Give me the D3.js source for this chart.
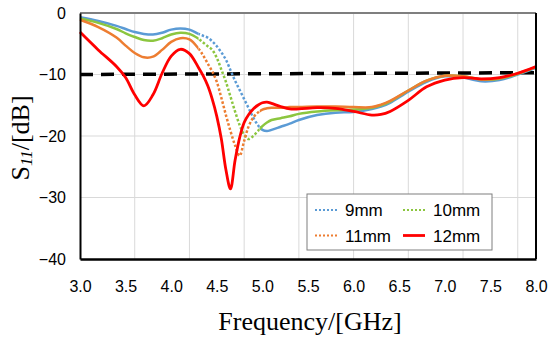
<!DOCTYPE html>
<html>
<head>
<meta charset="utf-8">
<script src="https://cdn.jsdelivr.net/npm/d3@7"></script>
<style>
  body { margin: 0; background: #fff; }
  svg text { fill: #000; }
</style>
</head>
<body>
<div id="chart"></div>
<script>
// frequency grid (GHz)
var freq = [3.0, 3.2, 3.4, 3.5, 3.6, 3.7, 3.8, 3.9, 4.0, 4.1, 4.2, 4.3, 4.35, 4.4, 4.45, 4.5, 4.55, 4.6, 4.65, 4.7, 4.75,
            4.8, 4.85, 4.9, 4.95, 5.0, 5.05, 5.1, 5.2, 5.3, 5.4, 5.6, 5.8, 6.0, 6.2, 6.3, 6.4, 6.6, 6.8, 7.0, 7.2,
            7.4, 7.6, 7.8, 8.0];

var s9mm  = [-0.7, -1.3, -2.1, -2.6, -3.1, -3.4, -3.5, -3.2, -2.7, -2.5, -2.7, -3.4, -3.7, -4.0, -4.6, -5.4, -6.4, -7.6, -9.3, -11.0, -12.5,
             -14.0, -15.5, -17.0, -18.2, -19.0, -19.2, -19.0, -18.5, -18.0, -17.4, -16.6, -16.2, -16.1, -15.6, -15.2, -14.6, -12.8, -11.2, -10.3, -10.5,
             -11.1, -10.9, -10.0, -8.9];
var s10mm = [-0.9, -1.6, -2.6, -3.3, -3.9, -4.4, -4.5, -4.1, -3.5, -3.2, -3.4, -4.2, -4.8, -5.4, -6.0, -7.3, -9.2, -11.2, -13.6, -16.0, -18.2,
             -19.8, -20.5, -20.0, -19.2, -18.4, -17.8, -17.4, -17.1, -16.8, -16.4, -16.0, -15.8, -15.7, -15.4, -15.0, -14.4, -12.6, -11.0, -10.2, -10.3,
             -10.8, -10.7, -9.9, -8.8];
var s11mm = [-1.1, -2.3, -4.0, -5.3, -6.5, -7.2, -7.1, -6.0, -4.7, -4.1, -4.3, -5.8, -6.9, -8.2, -9.5, -11.2, -13.8, -16.6, -19.2, -21.5, -23.2,
             -20.8, -18.4, -17.0, -16.2, -15.7, -15.5, -15.4, -15.4, -15.3, -15.3, -15.2, -15.2, -15.3, -15.3, -14.9, -14.3, -12.6, -11.0, -10.2, -10.3,
             -10.8, -10.6, -9.8, -8.8];
var s12mm = [-3.1, -6.0, -8.7, -10.5, -13.3, -15.1, -13.3, -9.8, -7.0, -5.9, -6.6, -8.9, -10.2, -11.8, -14.0, -16.8, -20.5, -25.5, -28.6, -24.0, -20.3,
             -17.8, -16.5, -15.6, -15.0, -14.6, -14.5, -14.7, -15.2, -15.6, -15.6, -15.4, -15.5, -16.0, -16.6, -16.5, -16.0, -14.2, -12.0, -10.9, -10.5,
             -10.7, -10.5, -9.8, -8.7];

// -10 dB reference line
var refFreq = [3.0, 8.0];
var refVals = [-10, -9.7];

var seriesNames = ["9mm", "10mm", "11mm", "12mm"];
var seriesColors = ["#5b9bd5", "#8cc63f", "#ed7d31", "#ff0000"];
var seriesDotted = [true, true, true, false];

var xTicks = [3.0, 3.5, 4.0, 4.5, 5.0, 5.5, 6.0, 6.5, 7.0, 7.5, 8.0];
var xGrid = [3.6, 4.2, 4.8, 5.4, 6.0, 6.6, 7.2, 7.8];
var yTicks = [0, -10, -20, -30, -40];

var margin = {top: 13, right: 14, bottom: 78, left: 80},
    width = 550 - margin.left - margin.right,
    height = 337 - margin.top - margin.bottom;

var x = d3.scaleLinear().domain([3, 8]).range([0, width]);
var y = d3.scaleLinear().domain([-40, 0]).range([height, 0]);

var svg = d3.select("#chart").append("svg")
    .attr("width", 550)
    .attr("height", 337)
    .append("g")
    .attr("transform", "translate(" + margin.left + "," + margin.top + ")");

// gridlines
svg.selectAll(".vgrid")
    .data(xGrid)
    .enter()
    .append("line")
    .attr("x1", function(d) { return x(d); })
    .attr("x2", function(d) { return x(d); })
    .attr("y1", 0)
    .attr("y2", height)
    .style("stroke", "#d9d9d9")
    .style("stroke-width", 1);

svg.selectAll(".hgrid")
    .data([-10, -20, -30])
    .enter()
    .append("line")
    .attr("x1", 0)
    .attr("x2", width)
    .attr("y1", function(d) { return y(d); })
    .attr("y2", function(d) { return y(d); })
    .style("stroke", "#d9d9d9")
    .style("stroke-width", 1);

// clip regions: steep part is drawn dotted, the rest solid
var defs = svg.append("defs");
var dotFrom = 4.3, dotTo = 4.97;
var solidClip = defs.append("clipPath").attr("id", "solidClip");
solidClip.append("rect").attr("x", -5).attr("y", -5).attr("width", x(dotFrom) + 5).attr("height", height + 10);
solidClip.append("rect").attr("x", x(dotTo)).attr("y", -5).attr("width", width - x(dotTo) + 5).attr("height", height + 10);
defs.append("clipPath").attr("id", "dotClip")
    .append("rect").attr("x", x(dotFrom)).attr("y", -5).attr("width", x(dotTo) - x(dotFrom)).attr("height", height + 10);

var line = d3.line()
    .x(function(d) { return x(d[0]); })
    .y(function(d) { return y(d[1]); })
    .curve(d3.curveCatmullRom.alpha(0.5));

var allSeries = [s9mm, s10mm, s11mm, s12mm];

// reference line first so curves sit on top
svg.append("path")
    .datum(d3.zip(refFreq, refVals))
    .attr("d", d3.line().x(function(d) { return x(d[0]); }).y(function(d) { return y(d[1]); }))
    .style("fill", "none")
    .style("stroke", "#000")
    .style("stroke-width", 3.5)
    .style("stroke-dasharray", "13,8");

allSeries.forEach(function(vals, i) {
  var pts = d3.zip(freq, vals);
  if (seriesDotted[i]) {
    svg.append("path")
        .datum(pts)
        .attr("d", line)
        .attr("clip-path", "url(#solidClip)")
        .style("fill", "none")
        .style("stroke", seriesColors[i])
        .style("stroke-width", 2.5);
    svg.append("path")
        .datum(pts)
        .attr("d", line)
        .attr("clip-path", "url(#dotClip)")
        .style("fill", "none")
        .style("stroke", seriesColors[i])
        .style("stroke-width", 2.5)
        .style("stroke-dasharray", "2.5,2");
  } else {
    svg.append("path")
        .datum(pts)
        .attr("d", line)
        .style("fill", "none")
        .style("stroke", seriesColors[i])
        .style("stroke-width", 2.8);
  }
});

// frame
svg.append("line").attr("x1", 0).attr("x2", width).attr("y1", 0).attr("y2", 0)
    .style("stroke", "#7f7f7f").style("stroke-width", 2);
svg.append("line").attr("x1", width).attr("x2", width).attr("y1", 0).attr("y2", height)
    .style("stroke", "#000").style("stroke-width", 2);

// axes
var xAxis = svg.append("g")
    .attr("transform", "translate(0," + height + ")")
    .call(d3.axisBottom(x).tickValues(xTicks).tickSize(0).tickPadding(22).tickFormat(d3.format(".1f")));
xAxis.select(".domain").style("stroke", "#000").style("stroke-width", 2.5);
xAxis.selectAll("text").style("font", "16px 'Liberation Sans', Arial, sans-serif");

var yAxis = svg.append("g")
    .call(d3.axisLeft(y).tickValues(yTicks).tickSize(0).tickPadding(14)
      .tickFormat(function(d) { return d < 0 ? "\u2212" + Math.abs(d) : d; }));
yAxis.select(".domain").style("stroke", "#000").style("stroke-width", 2);
yAxis.selectAll("text").style("font", "16px 'Liberation Sans', Arial, sans-serif");

// axis titles
svg.append("text")
    .attr("x", width / 2 + 2)
    .attr("y", height + 71)
    .attr("text-anchor", "middle")
    .style("font", "26px 'Liberation Serif', 'Times New Roman', serif")
    .text("Frequency/[GHz]");

var yt = svg.append("text")
    .attr("transform", "translate(" + (29 - margin.left) + "," + (height / 2 + 2) + ") rotate(-90)")
    .attr("text-anchor", "middle")
    .style("font", "26px 'Liberation Serif', 'Times New Roman', serif");
yt.append("tspan").text("S");
yt.append("tspan").attr("dy", 3).style("font-size", "17px").style("font-style", "italic").text("11");
yt.append("tspan").attr("dy", -3).text("/[dB]");

// legend
var legend = svg.append("g")
    .attr("transform", "translate(" + (307 - margin.left) + "," + (194 - margin.top) + ")");
legend.append("rect")
    .attr("width", 185)
    .attr("height", 56)
    .style("fill", "#fff")
    .style("stroke", "#7f7f7f")
    .style("stroke-width", 1);

var items = legend.selectAll(".item")
    .data(seriesNames)
    .enter()
    .append("g")
    .attr("transform", function(d, i) {
      return "translate(" + (i % 2 === 0 ? 8 : 96) + "," + (i < 2 ? 16 : 41.5) + ")";
    });
items.append("line")
    .attr("x1", 0)
    .attr("x2", 22)
    .style("stroke", function(d, i) { return seriesColors[i]; })
    .style("stroke-width", function(d, i) { return seriesDotted[i] ? 2 : 2.8; })
    .style("stroke-dasharray", function(d, i) { return seriesDotted[i] ? "2,2" : null; });
items.append("text")
    .attr("x", 30)
    .attr("dy", "0.36em")
    .style("font", "17px 'Liberation Sans', Arial, sans-serif")
    .text(function(d) { return d; });
</script>
</body>
</html>
